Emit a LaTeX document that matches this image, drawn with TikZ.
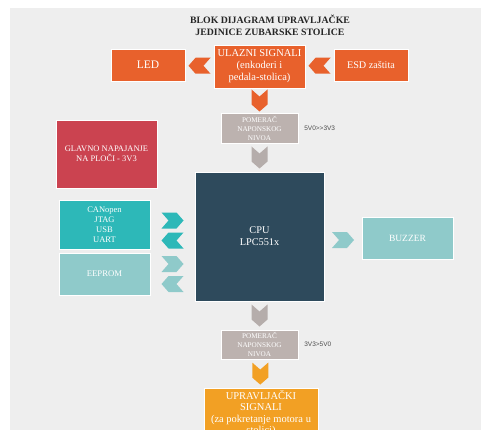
\documentclass[tikz,border=0pt]{standalone}
\usepackage{fontspec}
\setmainfont{Liberation Serif}
\setsansfont{Liberation Sans}
\usetikzlibrary{positioning,calc}

\definecolor{pozadina}{HTML}{EEEEEE}
\definecolor{narandz}{HTML}{E8612C}
\definecolor{crvena}{HTML}{CB4350}
\definecolor{tirkiz}{HTML}{2DB8B8}
\definecolor{svtirkiz}{HTML}{8FCACA}
\definecolor{tamna}{HTML}{2E4A5C}
\definecolor{sivaboja}{HTML}{BCB2AF}
\definecolor{sivastr}{HTML}{B5ADAB}
\definecolor{zuta}{HTML}{F2A024}

\tikzset{
  blok/.style={shape=rectangle,text=white,align=center,inner sep=1pt,
    draw=white,line width=0.3pt},
  napon/.style={font=\sffamily\fontsize{6.5}{7}\selectfont,text=black!70,inner sep=0pt},
  strdesno/.pic={\path[pic actions] (-11,-8) -- (4,-8) -- (11,0) -- (4,8) -- (-11,8) -- (-4,0) -- cycle;},
  strlevo/.pic={\path[pic actions] (11,-8) -- (-4,-8) -- (-11,0) -- (-4,8) -- (11,8) -- (4,0) -- cycle;},
  strdole/.pic={\path[pic actions] (-8,-11) -- (0,-4) -- (8,-11) -- (8,4) -- (0,11) -- (-8,4) -- cycle;}
}

\begin{document}
\begin{tikzpicture}
	[x=1pt,y=-1pt]
	\useasboundingbox (0,0) rectangle (481,430);
	\clip (0,0) rectangle (481,430);
	\fill[pozadina] (10,8) rectangle (481,430);
	
	\node [font=\bfseries\fontsize{9.8}{12}\selectfont,align=center,text=black!85] (naslov) at (270,25) {BLOK DIJAGRAM UPRAVLJAČKE\\JEDINICE ZUBARSKE STOLICE};
	
	\node [blok,fill=narandz,minimum width=91pt,minimum height=43pt,font=\fontsize{10.5}{12}\selectfont] (ulazni) at (259.5,66.5) {ULAZNI SIGNALI\\(enkoderi i\\pedala-stolica)};
	\node [blok,fill=narandz,minimum width=74pt,minimum height=32pt,font=\fontsize{11.5}{12}\selectfont] (led) at (148,65) {LED};
	\node [blok,fill=narandz,minimum width=74pt,minimum height=32pt,font=\fontsize{10.2}{12}\selectfont] (esd) at (371,65) {ESD zaštita};
	
	\node [blok,fill=sivaboja,minimum width=77pt,minimum height=30pt,font=\fontsize{7.2}{9}\selectfont] (pom1) at (259.5,128) {POMERAČ\\NAPONSKOG\\NIVOA};
	\node [napon,right=6pt of pom1] (nap1) {5V0>{}>3V3};
	
	\node [blok,fill=tamna,minimum width=129pt,minimum height=129pt,font=\fontsize{10.3}{12}\selectfont] (cpu) at (259.5,236.5) {CPU\\LPC551x};
	
	\node [blok,fill=crvena,minimum width=101pt,minimum height=68pt,font=\fontsize{8.5}{10}\selectfont] (glavno) at (106.5,154) {GLAVNO NAPAJANJE\\NA PLOČI - 3V3};
	\node [blok,fill=tirkiz,minimum width=91pt,minimum height=49pt,font=\fontsize{8.5}{10}\selectfont] (can) at (104.5,224.5) {CANopen\\JTAG\\USB\\UART};
	\node [blok,fill=svtirkiz,minimum width=91pt,minimum height=42pt,font=\fontsize{8.7}{10}\selectfont] (eeprom) at (104.5,274) {EEPROM};
	\node [blok,fill=svtirkiz,minimum width=91pt,minimum height=42pt,font=\fontsize{9.5}{10}\selectfont] (buzzer) at (407.5,238) {BUZZER};
	
	\node [blok,fill=sivaboja,minimum width=77pt,minimum height=29pt,font=\fontsize{7.2}{9}\selectfont] (pom2) at (259.5,344.5) {POMERAČ\\NAPONSKOG\\NIVOA};
	\node [napon,right=6pt of pom2] (nap2) {3V3>5V0};
	
	\node [blok,fill=zuta,anchor=north,minimum width=114pt,inner sep=2pt,font=\fontsize{10.5}{11.5}\selectfont] (upr) at (261,388) {UPRAVLJAČKI\\SIGNALI\\(za pokretanje motora u\\stolici)};
	
	% strelice
	\pic [fill=narandz] at ($(led.east)!0.5!(ulazni.west)$) {strlevo};
	\pic [fill=narandz] at ($(ulazni.east)!0.5!(esd.west)$) {strlevo};
	\pic [fill=narandz] at ($(ulazni.south)!0.5!(pom1.north)$) {strdole};
	\pic [fill=sivastr] at ($(pom1.south)!0.5!(cpu.north)$) {strdole};
	\pic [fill=sivastr] at ($(cpu.south)!0.5!(pom2.north)$) {strdole};
	\pic [fill=zuta] at ($(pom2.south)!0.5!(upr.north)$) {strdole};
	
	\pic [fill=tirkiz] at ($(can.east)!0.5!(cpu.west)+(0,-10)$) {strdesno};
	\pic [fill=tirkiz] at ($(can.east)!0.5!(cpu.west)+(0,10)$) {strlevo};
	\pic [fill=svtirkiz] at ($(eeprom.east)!0.5!(cpu.west |- eeprom.east)+(0,-10)$) {strdesno};
	\pic [fill=svtirkiz] at ($(eeprom.east)!0.5!(cpu.west |- eeprom.east)+(0,10)$) {strlevo};
	\pic [fill=svtirkiz] at ($(cpu.east |- buzzer.west)!0.5!(buzzer.west)+(0,2)$) {strdesno};
	
	\end{tikzpicture}
\end{document}
